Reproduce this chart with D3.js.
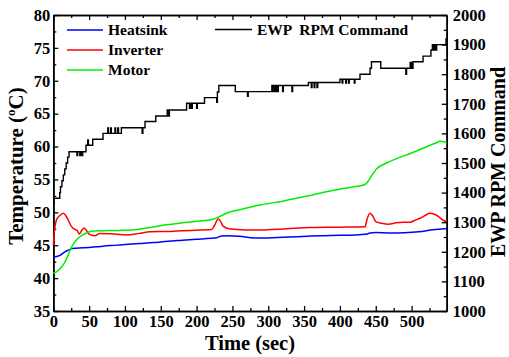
<!DOCTYPE html>
<html>
<head>
<meta charset="utf-8">
<script src="https://cdn.jsdelivr.net/npm/d3@7/dist/d3.min.js"></script>
<style>
html,body{margin:0;padding:0;background:#fff;}
svg text{font-family:"Liberation Serif","Times New Roman",serif;font-weight:bold;fill:#000;}
</style>
</head>
<body>
<svg id="chart" width="509" height="357"></svg>
<script>
// ---- Data ----
const heatTime = [0,5,10,15,20,25,30,40,50,60,80,100,120,140,160,180,200,220,228,235,245,260,280,300,320,340,360,380,400,420,435,442,450,470,490,510,530,549];
const heatTemp = [43.2,43.3,43.5,43.9,44.2,44.45,44.55,44.6,44.65,44.75,44.95,45.1,45.25,45.4,45.6,45.75,45.9,46.05,46.15,46.4,46.45,46.35,46.1,46.1,46.2,46.3,46.4,46.45,46.5,46.55,46.65,46.85,46.95,46.85,46.9,47.05,47.35,47.55];

const invTime = [0,2,5,10,14,18,21,25,30,33,36,40,43,46,49,53,58,65,80,102,120,135,163,205,221,225,230,233,237,245,256,279,320,358,400,435,438,442,446,450,458,468,478,488,498,505,512,520,525,532,538,544,549];
const invTemp = [45.0,47.5,49.0,49.6,49.85,49.4,48.8,47.9,47.4,47.3,46.7,47.3,47.6,47.3,46.8,46.55,46.45,46.8,46.75,46.55,46.8,47.05,47.1,47.3,47.4,48.0,49.0,48.7,47.9,47.5,47.4,47.3,47.45,47.7,47.75,47.8,49.0,49.85,49.4,48.6,48.35,48.2,48.4,48.5,48.5,48.8,49.1,49.6,49.85,49.7,49.3,48.8,48.6];

const motTime = [0,5,10,15,20,25,30,35,40,47,56,70,90,112,135,158,180,200,223,233,242,260,288,320,360,393,420,433,437,442,451,465,480,498,515,533,540,549];
const motTemp = [40.75,41.0,41.5,42.2,43.3,44.6,45.5,46.1,46.5,46.9,47.15,47.2,47.25,47.35,47.7,48.1,48.4,48.65,48.95,49.4,49.9,50.4,51.1,51.7,52.6,53.4,53.9,54.15,54.4,55.2,56.6,57.5,58.2,58.95,59.7,60.5,60.8,60.6];

const rpmTime = [0,1,9,10,12,14,16,18,20,22,33,34,37,38,40,41,45.6,48,49,55,69.4,76,77,80,81,86,87,90,91,95,124,125,128,143,159,160,162,186,190,191,193,194,200,201,211,228,229,231,254,271,272,305,306,308,309,311,312,314,320,321,333,334,356,360,361,364,365,368,369,400,403,404,408,409,412,413,420,421,428,442,444,457,492,493,498,500,502,516,527,529,530,532,533,535,548,549];
const rpmValue = [1362,1381,1400,1420,1440,1460,1480,1500,1520,1538,1525,1538,1525,1538,1525,1538,1560,1578,1560,1580,1600,1618,1600,1618,1600,1618,1600,1618,1600,1619,1600,1619,1640,1659,1679,1659,1679,1702,1685,1702,1685,1702,1685,1702,1721,1705,1740,1762,1741,1725,1741,1762,1741,1762,1741,1762,1741,1762,1741,1762,1741,1762,1772,1755,1772,1755,1772,1755,1772,1783,1770,1783,1770,1783,1770,1783,1770,1783,1800,1820,1842,1820,1800,1820,1840,1820,1842,1861,1882,1900,1882,1900,1882,1900,1919,1919];

const xTicks = [0,50,100,150,200,250,300,350,400,450,500];
const tempTicks = [35,40,45,50,55,60,65,70,75,80];
const rpmTicks = [1000,1100,1200,1300,1400,1500,1600,1700,1800,1900,2000];

const seriesNames = ["Heatsink","Inverter","Motor"];
const seriesColors = ["#0000ff","#ff0000","#00ee00"];
const rpmName = "EWP  RPM Command";

// ---- Layout ----
const svg = d3.select("#chart");
const L = 53.3, R = 446.7, T = 15, B = 311;
const x = d3.scaleLinear().domain([0,549]).range([L,R]);
const yT = d3.scaleLinear().domain([35,80]).range([B,T]);
const yR = d3.scaleLinear().domain([1000,2000]).range([B,T]);

const fontTick = "16.5px";
function styleAxis(g){
  g.selectAll("path.domain").attr("stroke","#000").attr("stroke-width",1.6);
  g.selectAll(".tick line").attr("stroke","#000").attr("stroke-width",1.3);
  g.selectAll("text").style("font-size",fontTick).attr("fill","#000");
}

const xMinor = d3.range(25,549,50);
const tMinor = d3.range(37.5,80,5);
const rMinor = d3.range(1050,2000,100);

// bottom
svg.append("g").attr("transform",`translate(0,${B})`)
  .call(d3.axisBottom(x).tickValues(xTicks).tickSizeInner(-5).tickSizeOuter(0).tickPadding(4).tickFormat(d3.format("d")))
  .call(styleAxis);
svg.append("g").attr("transform",`translate(0,${B})`)
  .call(d3.axisBottom(x).tickValues(xMinor).tickSizeInner(-3).tickSizeOuter(0).tickFormat(""))
  .call(styleAxis);
// top
svg.append("g").attr("transform",`translate(0,${T})`)
  .call(d3.axisTop(x).tickValues(xTicks).tickSizeInner(-5).tickSizeOuter(0).tickFormat(""))
  .call(styleAxis);
svg.append("g").attr("transform",`translate(0,${T})`)
  .call(d3.axisTop(x).tickValues(xMinor).tickSizeInner(-3).tickSizeOuter(0).tickFormat(""))
  .call(styleAxis);
// left
svg.append("g").attr("transform",`translate(${L},0)`)
  .call(d3.axisLeft(yT).tickValues(tempTicks).tickSizeInner(-5).tickSizeOuter(0).tickPadding(3).tickFormat(d3.format("d")))
  .call(styleAxis);
svg.append("g").attr("transform",`translate(${L},0)`)
  .call(d3.axisLeft(yT).tickValues(tMinor).tickSizeInner(-3).tickSizeOuter(0).tickFormat(""))
  .call(styleAxis);
// right
svg.append("g").attr("transform",`translate(${R},0)`)
  .call(d3.axisRight(yR).tickValues(rpmTicks).tickSizeInner(-5).tickSizeOuter(0).tickPadding(6).tickFormat(d3.format("d")))
  .call(styleAxis);
svg.append("g").attr("transform",`translate(${R},0)`)
  .call(d3.axisRight(yR).tickValues(rMinor).tickSizeInner(-3).tickSizeOuter(0).tickFormat(""))
  .call(styleAxis);

// ---- Lines ----
const plot = svg.append("g");
const series = [
  {t:heatTime, v:heatTemp},
  {t:invTime, v:invTemp},
  {t:motTime, v:motTemp}
];
series.forEach((s,i)=>{
  const pts = s.t.map((t,j)=>[t,s.v[j]]);
  plot.append("path")
    .attr("d", d3.line().x(d=>x(d[0])).y(d=>yT(d[1])).curve(d3.curveMonotoneX)(pts))
    .attr("fill","none").attr("stroke",seriesColors[i]).attr("stroke-width",1.5);
});
const rpmPts = rpmTime.map((t,j)=>[t,rpmValue[j]]);
plot.append("path")
  .attr("d", d3.line().x(d=>x(d[0])).y(d=>yR(d[1])).curve(d3.curveStepAfter)(rpmPts))
  .attr("fill","none").attr("stroke","#000").attr("stroke-width",1.4);

// ---- Legend ----
const lg = svg.append("g");
seriesNames.forEach((n,i)=>{
  const yy = 30 + i*20;
  lg.append("line").attr("x1",67).attr("x2",103).attr("y1",yy).attr("y2",yy)
    .attr("stroke",seriesColors[i]).attr("stroke-width",1.5);
  lg.append("text").attr("x",108).attr("y",yy+5).style("font-size","15.5px").text(n);
});
lg.append("line").attr("x1",215).attr("x2",252).attr("y1",29.5).attr("y2",29.5)
  .attr("stroke","#000").attr("stroke-width",1.5);
lg.append("text").attr("x",257).attr("y",34.5).style("font-size","15.5px").style("white-space","pre")
  .attr("xml:space","preserve").text(rpmName);

// ---- Axis titles ----
svg.append("text").attr("x",250).attr("y",350).attr("text-anchor","middle")
  .style("font-size","20.5px").text("Time (sec)");
const tl = svg.append("text").attr("transform","translate(23,166) rotate(-90)")
  .attr("text-anchor","middle").style("font-size","21px");
tl.append("tspan").text("Temperature (");
tl.append("tspan").attr("dy",-8).style("font-size","13px").text("o");
tl.append("tspan").attr("dy",8).text("C)");
svg.append("text").attr("transform","translate(505,162) rotate(-90)")
  .attr("text-anchor","middle").style("font-size","20px").text("EWP RPM Command");
</script>
</body>
</html>
